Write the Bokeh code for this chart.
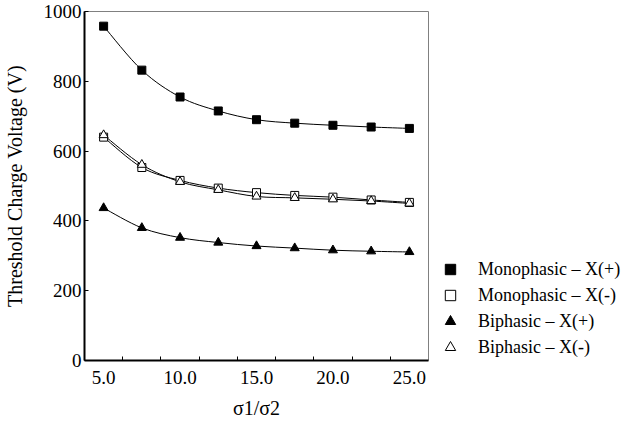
from bokeh.plotting import figure
from bokeh.models import Range1d, FixedTicker, Legend, LegendItem
from bokeh.embed import file_html
from bokeh.resources import INLINE

# ---- data ----
ratio = [5.0, 7.5, 10.0, 12.5, 15.0, 17.5, 20.0, 22.5, 25.0]
mono_pos = [958, 832, 755, 715, 690, 680, 674, 669, 665]
mono_neg = [640, 553, 516, 494, 481, 473, 468, 460, 453]
bi_pos = [437, 380, 352, 338, 328, 322, 316, 313, 311]
bi_neg = [646, 561, 512, 489, 470, 466, 462, 457, 450]

x_tick_values = [5, 10, 15, 20, 25]
x_tick_labels = ["5.0", "10.0", "15.0", "20.0", "25.0"]
x_minor_ticks = [6.25, 8.75, 11.25, 13.75, 16.25, 18.75, 21.25, 23.75]
y_tick_values = [0, 200, 400, 600, 800, 1000]

series_names = ["Monophasic \u2013 X(+)", "Monophasic \u2013 X(-)",
                "Biphasic \u2013 X(+)", "Biphasic \u2013 X(-)"]

FONT = "Liberation Serif"

p = figure(frame_width=344, frame_height=349, output_backend="svg",
           toolbar_location=None,
           x_range=Range1d(3.75, 26.25), y_range=Range1d(0, 1000),
           min_border_left=79, min_border_right=0, min_border_top=11,
           min_border_bottom=61)
p.background_fill_color = "white"
p.border_fill_color = "white"
p.outline_line_color = "#808080"
p.outline_line_width = 1
p.xgrid.visible = False
p.ygrid.visible = False


def smooth_segments(xs, ys):
    # Catmull-Rom segments as cubic Bezier control points
    n = len(xs)
    x0, y0, x1, y1, cx0, cy0, cx1, cy1 = [], [], [], [], [], [], [], []
    for i in range(n - 1):
        xm, ym = (xs[i - 1], ys[i - 1]) if i > 0 else (xs[i], ys[i])
        xp, yp = (xs[i + 2], ys[i + 2]) if i + 2 < n else (xs[i + 1], ys[i + 1])
        x0.append(xs[i]); y0.append(ys[i])
        x1.append(xs[i + 1]); y1.append(ys[i + 1])
        cx0.append(xs[i] + (xs[i + 1] - xm) / 6.0)
        cy0.append(ys[i] + (ys[i + 1] - ym) / 6.0)
        cx1.append(xs[i + 1] - (xp - xs[i]) / 6.0)
        cy1.append(ys[i + 1] - (yp - ys[i]) / 6.0)
    return dict(x0=x0, y0=y0, x1=x1, y1=y1, cx0=cx0, cy0=cy0, cx1=cx1, cy1=cy1)


for ys in [mono_pos, mono_neg, bi_pos, bi_neg]:
    p.bezier(**smooth_segments(ratio, ys), line_color="black", line_width=1)

r1 = p.scatter(ratio, mono_pos, marker="square", size=8, fill_color="black",
               line_color="black", line_width=1)
r2 = p.scatter(ratio, mono_neg, marker="square", size=8, fill_color="white",
               line_color="black", line_width=1)
r3 = p.scatter(ratio, bi_pos, marker="triangle", size=9, fill_color="black",
               line_color="black", line_width=1)
r4 = p.scatter(ratio, bi_neg, marker="triangle", size=9, fill_color="white",
               line_color="black", line_width=1)

# axes
xt = FixedTicker(ticks=x_tick_values, minor_ticks=x_minor_ticks)
p.xaxis.ticker = xt
p.xaxis.major_label_overrides = {v: l for v, l in zip(x_tick_values, x_tick_labels)}
p.xaxis.major_tick_line_color = None
p.xaxis.minor_tick_in = 4
p.xaxis.minor_tick_out = 0
p.xaxis.minor_tick_line_color = "black"
p.xaxis.major_label_standoff = 4
p.xaxis.axis_label = "\u03c31/\u03c32"
p.xaxis.axis_label_standoff = 10

p.yaxis.ticker = FixedTicker(ticks=y_tick_values, minor_ticks=[])
p.yaxis.major_tick_in = 4
p.yaxis.major_tick_out = 0
p.yaxis.minor_tick_line_color = None
p.yaxis.major_label_standoff = 3
p.yaxis.axis_label = "Threshold Charge Voltage (V)"
p.yaxis.axis_label_standoff = 15

for ax in [p.xaxis, p.yaxis]:
    ax.axis_line_color = "black"
    ax.axis_line_width = 2
    ax.major_tick_line_width = 1
    ax.major_label_text_font = FONT
    ax.major_label_text_font_size = "19px"
    ax.major_label_text_color = "black"
    ax.axis_label_text_font = FONT
    ax.axis_label_text_font_size = "20px"
    ax.axis_label_text_font_style = "normal"
    ax.axis_label_text_color = "black"

legend = Legend(items=[LegendItem(label=series_names[0], renderers=[r1]),
                       LegendItem(label=series_names[1], renderers=[r2]),
                       LegendItem(label=series_names[2], renderers=[r3]),
                       LegendItem(label=series_names[3], renderers=[r4])],
                location="bottom_left", margin=0, padding=2,
                glyph_width=44, glyph_height=26, label_height=26, spacing=0,
                label_standoff=6, label_text_font=FONT,
                label_text_font_size="18px", label_text_color="black",
                border_line_color=None, background_fill_alpha=0)
p.add_layout(legend, "right")

open("out.html", "w").write(file_html(p, INLINE))
